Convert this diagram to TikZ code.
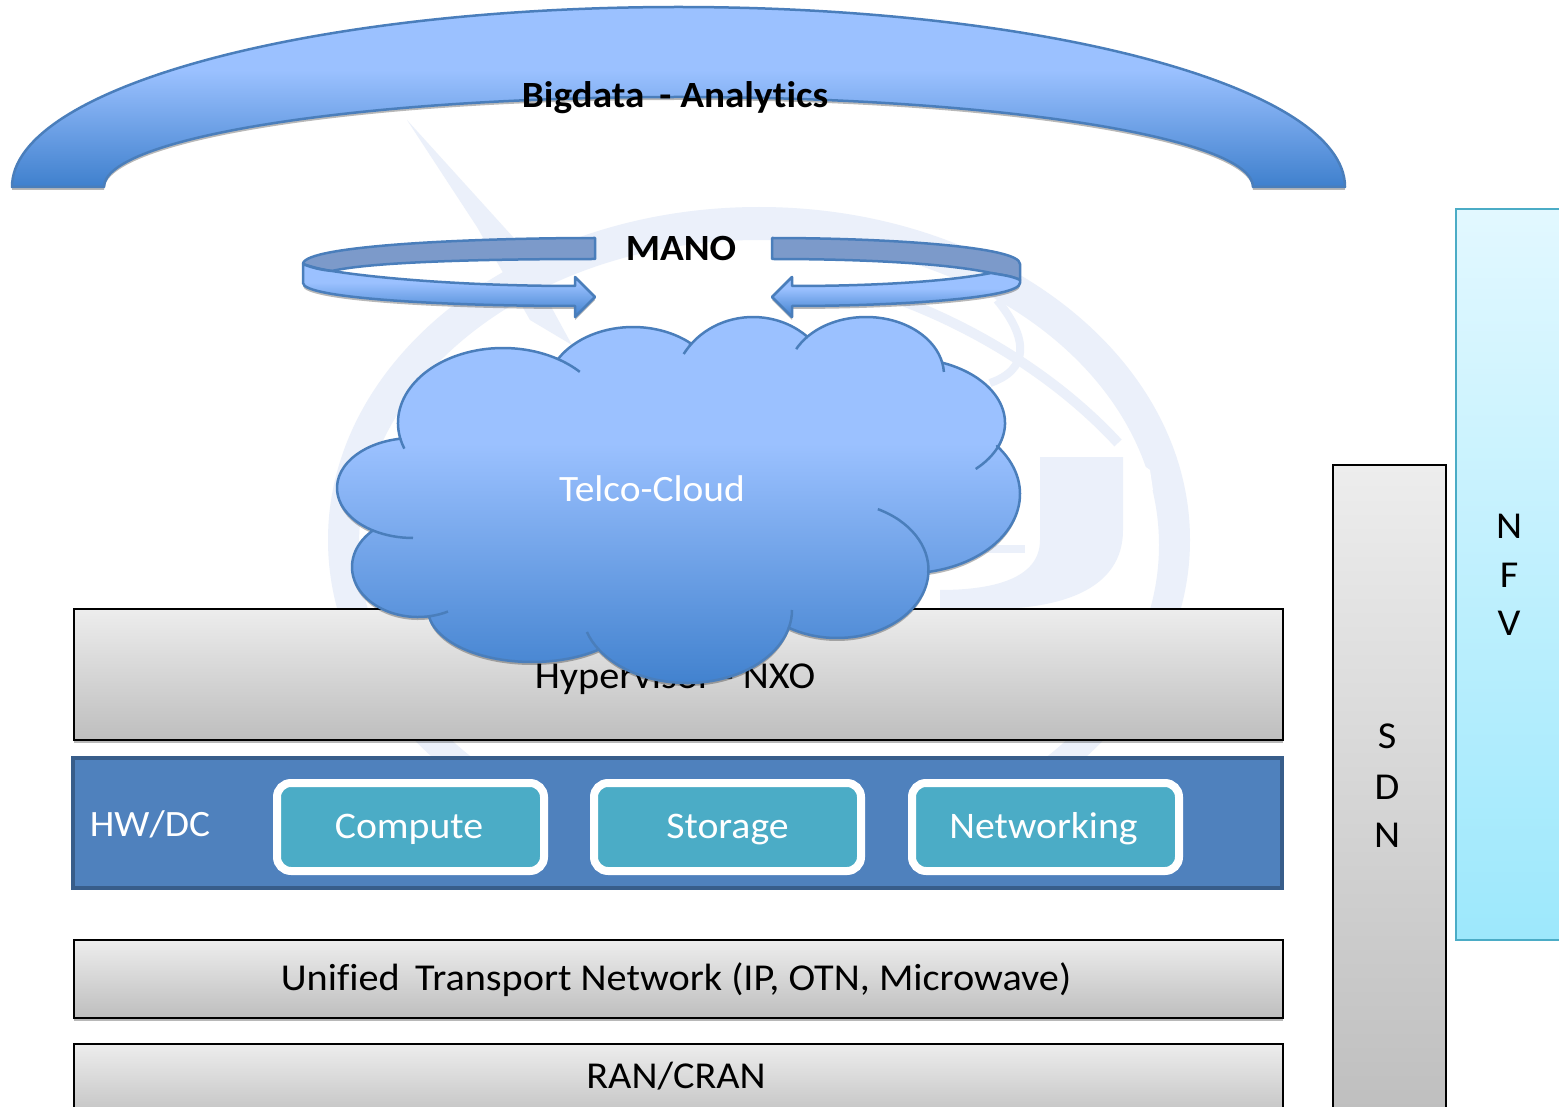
\documentclass[tikz,border=0pt]{standalone}
\usepackage{fontspec}
\setmainfont[FakeStretch=1.06,Ligatures=NoCommon]{Carlito}
\usetikzlibrary{shadows}
\definecolor{wm}{HTML}{EBF0FA}
\definecolor{bluelo}{HTML}{3F80CD}
\definecolor{bluehi}{HTML}{9BC1FF}
\definecolor{blueedge}{HTML}{4A7EBB}
\definecolor{hwfill}{HTML}{4F81BD}
\definecolor{hwedge}{HTML}{385D8A}
\definecolor{teal}{HTML}{4BACC6}
\definecolor{slate}{HTML}{7C9ACA}
\definecolor{graylo}{HTML}{BEBEBE}
\definecolor{grayhi}{HTML}{EDEDED}
\definecolor{cyanlo}{HTML}{9DE8FC}
\definecolor{cyanhi}{HTML}{E2F8FF}
\pgfdeclareverticalshading{officeblue}{100bp}{
 color(0bp)=(bluelo); color(25bp)=(bluelo); color(57.5bp)=(bluehi); color(100bp)=(bluehi)}
\pgfdeclareverticalshading{officegray}{100bp}{
 color(0bp)=(graylo); color(25bp)=(graylo); color(75bp)=(grayhi); color(100bp)=(grayhi)}
\pgfdeclareverticalshading{officecyan}{100bp}{
 color(0bp)=(cyanlo); color(25bp)=(cyanlo); color(75bp)=(cyanhi); color(100bp)=(cyanhi)}
\newcommand{\lobearc}[6]{({#1+#3*cos(#5)},{#2+#4*sin(#5)}) arc[start angle=#5,end angle=#6,x radius=#3,y radius=#4]}
\tikzset{
 softshadow/.style={drop shadow={shadow xshift=0pt,shadow yshift=-3pt,opacity=.28,fill=black}},
 bluebody/.style={shading=officeblue,draw=blueedge,line width=2.5pt,line join=round,softshadow},
 graybar/.style={shading=officegray,draw=black,line width=2.5pt,softshadow},
 slateband/.style={fill=slate,draw=blueedge,line width=2.5pt,line join=round},
 bartext/.style={font=\fontsize{38}{38}\selectfont,text=black,inner sep=0pt},
 headtext/.style={font=\fontsize{37}{37}\selectfont\bfseries,text=black,inner sep=0pt},
 lighttext/.style={font=\fontsize{37.2}{37.2}\selectfont,text=white,inner sep=0pt},
 pill/.style={fill=teal,draw=white,line width=8pt,rounded corners=14pt,softshadow,minimum width=267pt,minimum height=88pt,
   anchor=north west,text=white,font=\fontsize{37.5}{37.5}\selectfont,inner sep=0pt,text height=30pt,text depth=8pt},
 tick/.style={draw=blueedge,line width=2.5pt}
}
\begin{document}
\begin{tikzpicture}[x=1pt,y=-1pt]
\useasboundingbox (0,0) rectangle (1559,1107);
\fill[white] (0,0) rectangle (1559,1107);
% watermark
\begin{scope}
\clip (0,0) rectangle (1559,757);
\fill[wm,even odd rule] (759,540) ellipse [x radius=431,y radius=333]
   (759,545) ellipse [x radius=400,y radius=305];
\end{scope}
\fill[wm] (407,120) -- (513,237) -- (572,345) -- (530,320) -- (477,227) -- cycle;
\draw[wm,line width=10pt] (900,300) .. controls (980,330) and (1060,380) .. (1118,443);
\draw[wm,line width=8pt] (997,300) .. controls (1030,340) and (1028,370) .. (990,383);
\fill[wm] (1040,457) -- (1123,457) -- (1123,530) .. controls (1123,590) and (1060,609) .. (990,609)
  -- (940,609) -- (940,590) .. controls (990,590) and (1040,580) .. (1040,540) -- cycle;
\fill[wm] (950,545) -- (1025,545) -- (1025,553) -- (950,553) -- cycle;
\fill[white] (1140,463) -- (1150,470) -- (1153,490) -- (1142,490) -- cycle;
% big arc
\path[bluebody] (12,187) arc[start angle=180,end angle=0,x radius=666.5,y radius=-180]
  -- (1253,187) arc[start angle=0,end angle=180,x radius=574.5,y radius=-90] -- cycle;
\node[headtext] (bigdata) at (675,98) {Bigdata\, - Analytics};
% MANO arrows
\path[slateband] (595,238) .. controls (480,238) and (303,245) .. (303,264)
  .. controls (315,268) and (325,270) .. (332,271) .. controls (370,262) and (480,259) .. (595,259) -- cycle;
\path[bluebody] (303,264) .. controls (312,268) and (322,270) .. (332,271) .. controls (390,280) and (480,286) .. (575,286)
  -- (575,277) -- (595,297) -- (575,317) -- (575,306) .. controls (440,306) and (303,298) .. (303,283) -- cycle;
\path[slateband] (772,238) .. controls (880,238) and (1020,246) .. (1020,264)
  -- (1020,280) .. controls (1012,276) and (1002,275) .. (991,273) .. controls (950,264) and (870,259) .. (772,259) -- cycle;
\path[bluebody] (1020,280) .. controls (1012,276) and (1002,275) .. (991,273) .. controls (950,281) and (880,286) .. (792,286)
  -- (792,277) -- (772,297) -- (792,317) -- (792,306) .. controls (900,306) and (1020,298) .. (1020,283) -- cycle;
\node[headtext] (mano) at (681,248) {MANO};
% NFV and SDN
\path[shading=officecyan,draw=teal,line width=2.5pt] (1456,209) rectangle (1575,940);
\node[bartext] (nfvn) at (1509,526) {N};
\node[bartext] (nfvf) at (1509,575) {F};
\node[bartext] (nfvv) at (1509,623) {V};
\path[graybar] (1333,465) rectangle (1446,1125);
\node[bartext] (sdns) at (1387,736) {S};
\node[bartext] (sdnd) at (1387,787) {D};
\node[bartext] (sdnn) at (1387,835) {N};
% hypervisor
\path[graybar] (74,609) rectangle (1283,740);
\node[bartext] (hyper) at (675,678) {Hypervisor - NXO};
% hw
\path[fill=hwfill,draw=hwedge,line width=4.5pt] (73,758) rectangle (1282,888);
\node[lighttext] (hw) at (150,824) {HW/DC};
\node[pill] (compute) at (273,779) {Compute\kern3pt};
\node[pill] (storage) at (590,779) {Storage};
\node[pill] (networking) at (908,779) {Networking\kern4pt};
% lower bars
\path[graybar] (74,940) rectangle (1283,1018);
\node[bartext] (unified) at (676,980) {Unified\, Transport Network (IP, OTN, Microwave)};
\path[graybar] (74,1044) rectangle (1283,1125);
\node[bartext] (ran) at (676,1076) {RAN/CRAN};
% cloud
\path[bluebody]
    \lobearc{503}{423}{105}{75}{168}{301.6}
 -- \lobearc{633}{392}{87}{65}{211.5}{311}
 -- \lobearc{753}{391}{80}{74}{218}{313}
 -- \lobearc{866}{375}{78}{58}{221}{348}
 -- \lobearc{905}{423}{100}{65}{292.4}{381}
 -- \lobearc{907}{494}{113}{79.3}{-37.2}{79.3}
 -- \lobearc{837}{570}{91.5}{68}{2}{122}
 -- \lobearc{687}{610}{105}{73}{14}{147}
 -- \lobearc{532}{609}{104}{53}{50.6}{171}
 -- \lobearc{418}{567}{66}{50}{79}{226.7}
 -- \lobearc{413}{488}{76}{50}{121}{259.6} -- cycle;
\draw[tick] \lobearc{503}{423}{105}{75}{160}{168};
\draw[tick] \lobearc{503}{423}{105}{75}{301.6}{317};
\draw[tick] \lobearc{753}{391}{80}{74}{210}{218};
\draw[tick] \lobearc{866}{375}{78}{58}{206.5}{221};
\draw[tick] \lobearc{866}{375}{78}{58}{348}{357};
\draw[tick] \lobearc{905}{423}{100}{65}{381}{405};
\draw[tick] \lobearc{837}{570}{91.5}{68}{-63.5}{2};
\draw[tick] \lobearc{687}{610}{105}{73}{0}{14};
\draw[tick] \lobearc{687}{610}{105}{73}{147}{162.5};
\draw[tick] \lobearc{418}{567}{66}{50}{63}{79};
\draw[tick] \lobearc{413}{488}{76}{50}{90}{121};
\node[lighttext] (telco) at (652,489) {Telco-Cloud};
\end{tikzpicture}
\end{document}
